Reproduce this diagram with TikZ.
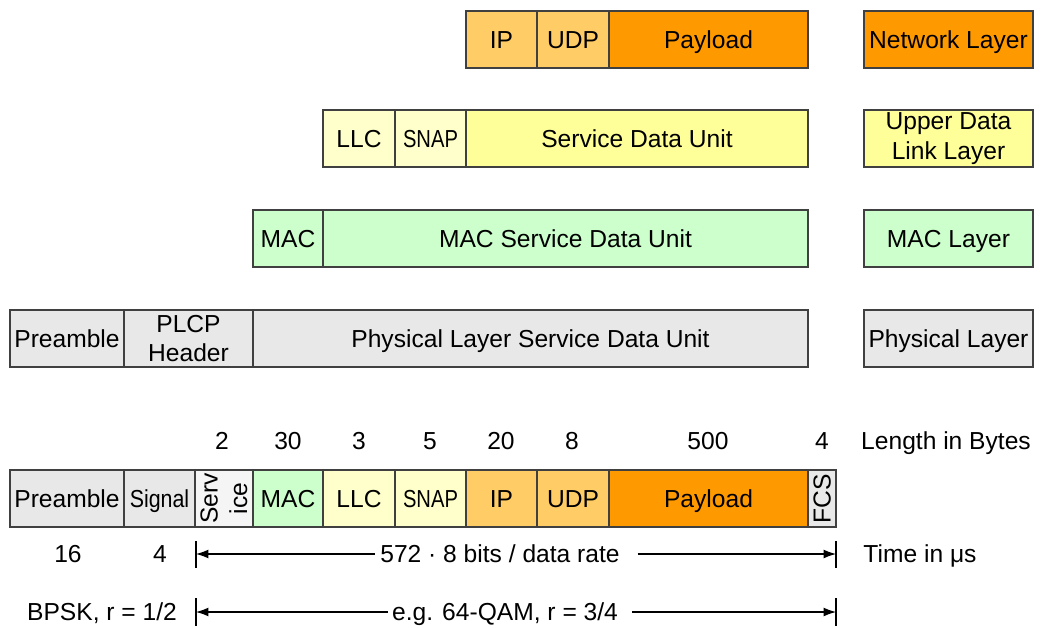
\documentclass[tikz,border=0pt]{standalone}
\usepackage{fontspec}
\setmainfont{Liberation Sans}
\usetikzlibrary{arrows.meta,positioning}

\definecolor{physgray}{HTML}{E8E8E8}
\definecolor{servgray}{HTML}{F5F5F5}
\definecolor{macgreen}{HTML}{CCFFCC}
\definecolor{llcyellow}{HTML}{FFFFCC}
\definecolor{sduyellow}{HTML}{FFFF99}
\definecolor{iporange}{HTML}{FFCC66}
\definecolor{payorange}{HTML}{FF9900}

\tikzset{
  box/.style={draw=black!75, line width=0.6pt, inner sep=0pt, outer sep=0pt,
              minimum height=1.14cm},
  cell/.style={box, text height=12.7pt, text depth=3pt},
  span/.style={minimum width=#1*0.02cm},
  lbl/.style={inner sep=0pt, text height=12.7pt, text depth=3pt},
  tip/.style={-{Latex[length=7pt,width=5pt]}, line width=0.6pt},
}

\begin{document}
\begin{tikzpicture}[x=0.02cm, y=-0.02cm, font=\fontsize{14}{16.8}\selectfont]
    \useasboundingbox (0,0) rectangle (1042,628);

    % network layer
    \node[cell, span=71, fill=iporange, anchor=west] (ipA) at (466,39.5) {IP};
    \node[cell, span=72, fill=iporange, right=0pt of ipA] (udpA) {UDP};
    \node[cell, span=199, fill=payorange, right=0pt of udpA] (payA) {Payload};
    \node[cell, span=169, fill=payorange, anchor=west] (netLayer) at (864,39.5) {Network Layer};

    % upper data link layer
    \node[cell, span=72, fill=llcyellow, anchor=west] (llcA) at (323,138.5) {LLC};
    \node[cell, span=71, fill=llcyellow, right=0pt of llcA] (snapA) {\scalebox{0.82}[1]{SNAP}};
    \node[cell, span=342, fill=sduyellow, right=0pt of snapA] (sduA) {Service Data Unit};
    \node[box, span=169, fill=sduyellow, align=center, anchor=west] (llcLayer) at (864,138.5) {Upper Data\\Link Layer};

    % MAC layer
    \node[cell, span=70, fill=macgreen, anchor=west] (macA) at (253,238.5) {MAC};
    \node[cell, span=485, fill=macgreen, right=0pt of macA] (msduA) {MAC Service Data Unit};
    \node[cell, span=169, fill=macgreen, anchor=west] (macLayer) at (864,238.5) {MAC Layer};

    % physical layer
    \node[cell, span=114, fill=physgray, anchor=west] (preA) at (10,338.5) {Preamble};
    \node[box, span=129, fill=physgray, align=center, right=0pt of preA] (plcpA) {PLCP\\Header};
    \node[cell, span=555, fill=physgray, right=0pt of plcpA] (psduA) {Physical Layer Service Data Unit};
    \node[cell, span=169, fill=physgray, anchor=west] (phyLayer) at (864,338.5) {Physical Layer};

    % byte counts
    \node[lbl] (nServ) at (222,441) {2};
    \node[lbl] (nMac)  at (288,441) {30};
    \node[lbl] (nLlc)  at (359,441) {3};
    \node[lbl] (nSnap) at (430,441) {5};
    \node[lbl] (nIp)   at (501,441) {20};
    \node[lbl] (nUdp)  at (572,441) {8};
    \node[lbl] (nPay)  at (708,441) {500};
    \node[lbl] (nFcs)  at (822,441) {4};
    \node[lbl] (lenBytes) at (946,441) {Length in Bytes};

    % complete frame
    \node[cell, span=114, fill=physgray, anchor=west] (preB) at (10,498.5) {Preamble};
    \node[cell, span=71, fill=physgray, right=0pt of preB] (sigB) {\scalebox{0.87}[1]{Signal}};
    \node[box, span=58, fill=servgray, right=0pt of sigB] (servB) {};
    \node[rotate=90, align=center, inner sep=0pt] at (servB) {Serv\\ice};
    \node[cell, span=70, fill=macgreen, right=0pt of servB] (macB) {MAC};
    \node[cell, span=72, fill=llcyellow, right=0pt of macB] (llcB) {LLC};
    \node[cell, span=71, fill=llcyellow, right=0pt of llcB] (snapB) {\scalebox{0.82}[1]{SNAP}};
    \node[cell, span=71, fill=iporange, right=0pt of snapB] (ipB) {IP};
    \node[cell, span=72, fill=iporange, right=0pt of ipB] (udpB) {UDP};
    \node[cell, span=199, fill=payorange, right=0pt of udpB] (payB) {Payload};
    \node[box, span=28, fill=physgray, right=0pt of payB] (fcsB) {};
    \node[rotate=90, lbl] at (fcsB) {FCS};

    % timing
    \node[lbl] (t16) at (68,554) {16};
    \node[lbl] (t4)  at (160,554) {4};
    \coordinate (rateL) at (196,554);
    \coordinate (rateR) at (836,554);
    \draw[line width=0.6pt] (rateL) ++(0,-13) -- ++(0,27);
    \draw[line width=0.6pt] (rateR) ++(0,-13) -- ++(0,27);
    \node[lbl] (rate) at (500,554) {572 · 8 bits / data rate};
    \draw[tip] ([xshift=-3pt]rate.west) -- (rateL);
    \draw[tip] ([xshift=10pt]rate.east) -- (rateR);
    \node[lbl] (timeUs) at (920,554) {Time in μs};

    % modulation
    \node[lbl] (bpsk) at (102,612) {BPSK, r = 1/2};
    \coordinate (qamL) at (196,612);
    \coordinate (qamR) at (836,612);
    \draw[line width=0.6pt] (qamL) ++(0,-14) -- ++(0,28);
    \draw[line width=0.6pt] (qamR) ++(0,-14) -- ++(0,28);
    \node[lbl] (qam) at (505,612) {e.g. 64-QAM, r = 3/4};
    \draw[tip] ([xshift=-2pt]qam.west) -- (qamL);
    \draw[tip] ([xshift=8pt]qam.east) -- (qamR);
\end{tikzpicture}
\end{document}
